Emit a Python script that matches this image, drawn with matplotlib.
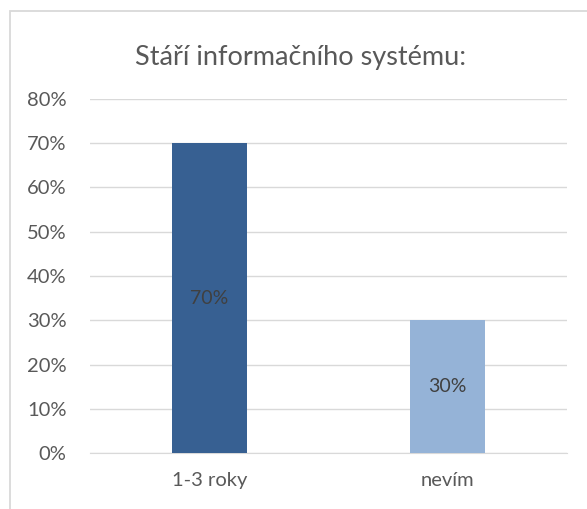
import matplotlib
matplotlib.use("Agg")
import matplotlib.pyplot as plt
import matplotlib.ticker as mticker
from matplotlib.patches import Rectangle

categories = ["1-3 roky", "nevím"]
values = [0.70, 0.30]
bar_colors = ["#376092", "#95B3D7"]
title = "Stáří informačního systému:"

W, H = 587, 509
TXT = "#595959"
GRID = "#D9D9D9"

plt.rcParams["font.family"] = ["Lato", "DejaVu Sans"]

fig = plt.figure(figsize=(W / 100, H / 100), dpi=100)
fig.patch.set_facecolor("white")

# chart frame (clipped on the right and bottom like the screenshot)
fig.add_artist(Rectangle((9.5 / W, -0.1), 1.2, (H - 11) / H + 0.1,
                         transform=fig.transFigure, fill=False,
                         edgecolor=GRID, lw=1.3))

ax = fig.add_axes([90 / W, (H - 453) / H, (567 - 90) / W, (453 - 99) / H])
x = range(len(categories))
bars = ax.bar(x, values, width=0.315, color=bar_colors, zorder=3)
for b, v in zip(bars, values):
    ax.text(b.get_x() + b.get_width() / 2, v / 2, f"{v:.0%}",
            ha="center", va="center", fontsize=14, color="#404040", zorder=4)

ax.set_xlim(-0.5, 1.5)
ax.set_ylim(0, 0.8)
ax.yaxis.set_major_locator(mticker.MultipleLocator(0.1))
ax.yaxis.set_major_formatter(mticker.PercentFormatter(1.0, decimals=0))
ax.grid(axis="y", color=GRID, lw=1.0, zorder=0)
ax.set_xticks(list(x))
ax.set_xticklabels(categories)
ax.tick_params(length=0, labelsize=14.5, colors=TXT)
ax.tick_params(axis="x", pad=14)
ax.tick_params(axis="y", pad=17)
for s in ax.spines.values():
    s.set_visible(False)
ax.spines["bottom"].set_visible(True)
ax.spines["bottom"].set_color(GRID)

fig.text(301 / W, 1 - 58 / H, title, ha="center", va="center",
         fontsize=19.5, color=TXT)

fig.savefig("out.png", dpi=100, facecolor="white")
